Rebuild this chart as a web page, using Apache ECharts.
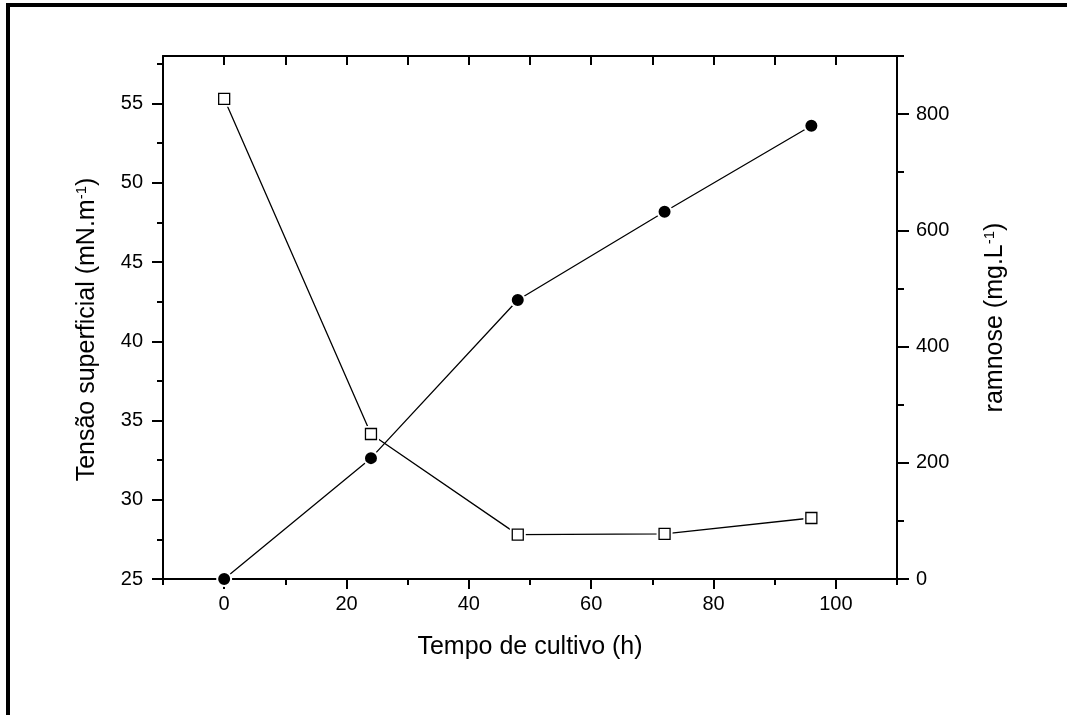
<!DOCTYPE html>
<html>
<head>
<meta charset="utf-8">
<script src="https://cdn.jsdelivr.net/npm/echarts@6/dist/echarts.min.js"></script>
<style>
  html, body { margin: 0; padding: 0; background: #fff; }
  #chart { width: 1067px; height: 715px; }
</style>
</head>
<body>
<div id="chart"></div>
<script>
// Cultivation time (h)
const hours = [0, 24, 48, 72, 96];
// Surface tension (mN.m-1), left axis
const tensao = [55.3, 34.15, 27.8, 27.85, 28.85];
// Rhamnose concentration (mg.L-1), right axis
const ramnose = [0, 208, 480, 632, 780];

// Tick positions
const xMajorTicks = [0, 20, 40, 60, 80, 100];
const xMinorTicks = [-10, 10, 30, 50, 70, 90, 110];
const leftMajorTicks = [25, 30, 35, 40, 45, 50, 55];
const leftMinorTicks = [27.5, 32.5, 37.5, 42.5, 47.5, 52.5, 57.5];
const rightMajorTicks = [0, 200, 400, 600, 800];
const rightMinorTicks = [100, 300, 500, 700, 900];

const FONT = "'Liberation Sans', Arial, sans-serif";
const LINE = { color: '#000', width: 2 };

const chart = echarts.init(document.getElementById('chart'), null, { renderer: 'canvas' });

// An axis that only draws a set of ticks (no line, no labels)
function tickOnlyAxis(base, ticks, len) {
  return Object.assign({
    type: 'value',
    axisLine: { show: false, onZero: false },
    axisLabel: { show: false },
    splitLine: { show: false },
    axisTick: { show: true, length: len, customValues: ticks, lineStyle: LINE }
  }, base);
}

const titleRich = {
  a: { fontFamily: FONT, fontSize: 25, color: '#000' },
  s: { fontFamily: FONT, fontSize: 15, color: '#000', padding: [0, 0, 12, 0] }
};

const tensaoPts = hours.map((h, i) => [h, tensao[i]]);
const ramnosePts = hours.map((h, i) => [h, ramnose[i]]);

chart.setOption({
  animation: false,
  backgroundColor: '#fff',
  grid: { left: 163, right: 170, top: 56, bottom: 136, containLabel: false },
  graphic: [{
    type: 'rect',
    shape: { x: 8, y: 5, width: 3000, height: 3000 },
    style: { fill: null, stroke: '#000', lineWidth: 4 },
    silent: true
  }],
  xAxis: [
    {
      type: 'value', position: 'bottom', min: -10, max: 110,
      name: 'Tempo de cultivo (h)', nameLocation: 'middle', nameGap: 56,
      nameTextStyle: { fontFamily: FONT, fontSize: 25, color: '#000' },
      axisLine: { show: true, onZero: false, lineStyle: LINE },
      axisTick: { show: true, length: 10, customValues: xMajorTicks, lineStyle: LINE },
      axisLabel: { customValues: xMajorTicks, fontFamily: FONT, fontSize: 20, color: '#000', margin: 15 },
      splitLine: { show: false }
    },
    tickOnlyAxis({ position: 'bottom', min: -10, max: 110 }, xMinorTicks, 6),
    {
      type: 'value', position: 'top', min: -10, max: 110, interval: 10,
      axisLine: { show: true, onZero: false, lineStyle: LINE },
      axisTick: { show: true, inside: true, length: 9, lineStyle: LINE },
      axisLabel: { show: false },
      splitLine: { show: false }
    }
  ],
  yAxis: [
    {
      type: 'value', position: 'left', min: 25, max: 58,
      name: '{a|Tensão superficial (mN.m}{s|-1}{a|)}', nameLocation: 'middle', nameGap: 62, nameRotate: 90,
      nameTextStyle: { rich: titleRich, padding: [0, 24, 0, 0] },
      axisLine: { show: true, onZero: false, lineStyle: LINE },
      axisTick: { show: true, length: 11, customValues: leftMajorTicks, lineStyle: LINE },
      axisLabel: { customValues: leftMajorTicks, fontFamily: FONT, fontSize: 20, color: '#000', margin: 20 },
      splitLine: { show: false }
    },
    {
      type: 'value', position: 'right', min: 0, max: 900,
      name: '{a|ramnose (mg.L}{s|-1}{a|)}', nameLocation: 'middle', nameGap: 85, nameRotate: 90,
      nameTextStyle: { rich: titleRich },
      axisLine: { show: true, onZero: false, lineStyle: LINE },
      axisTick: { show: true, length: 12, customValues: rightMajorTicks, lineStyle: LINE },
      axisLabel: { customValues: rightMajorTicks, fontFamily: FONT, fontSize: 20, color: '#000', margin: 19 },
      splitLine: { show: false }
    },
    tickOnlyAxis({ position: 'left', min: 25, max: 58 }, leftMinorTicks, 6),
    tickOnlyAxis({ position: 'right', min: 0, max: 900 }, rightMinorTicks, 7)
  ],
  series: [
    {
      name: 'Tensão superficial',
      type: 'line', xAxisIndex: 0, yAxisIndex: 0,
      data: tensaoPts, symbol: 'none',
      lineStyle: { color: '#000', width: 1.3 },
      z: 2
    },
    {
      name: 'ramnose',
      type: 'line', xAxisIndex: 0, yAxisIndex: 1,
      data: ramnosePts, symbol: 'none',
      lineStyle: { color: '#000', width: 1.3 },
      z: 2
    },
    {
      // white gap around the open squares
      type: 'scatter', xAxisIndex: 0, yAxisIndex: 0,
      data: tensaoPts, symbol: 'rect', symbolSize: 16,
      itemStyle: { color: '#fff', opacity: 1 },
      silent: true, z: 3
    },
    {
      type: 'scatter', xAxisIndex: 0, yAxisIndex: 0,
      data: tensaoPts, symbol: 'rect', symbolSize: 11,
      itemStyle: { color: '#fff', borderColor: '#000', borderWidth: 1.3, opacity: 1 },
      z: 4
    },
    {
      type: 'scatter', xAxisIndex: 0, yAxisIndex: 1,
      data: ramnosePts, symbol: 'circle', symbolSize: 14,
      itemStyle: { color: '#000', borderColor: '#fff', borderWidth: 2, opacity: 1 },
      z: 4
    }
  ]
});
</script>
</body>
</html>
